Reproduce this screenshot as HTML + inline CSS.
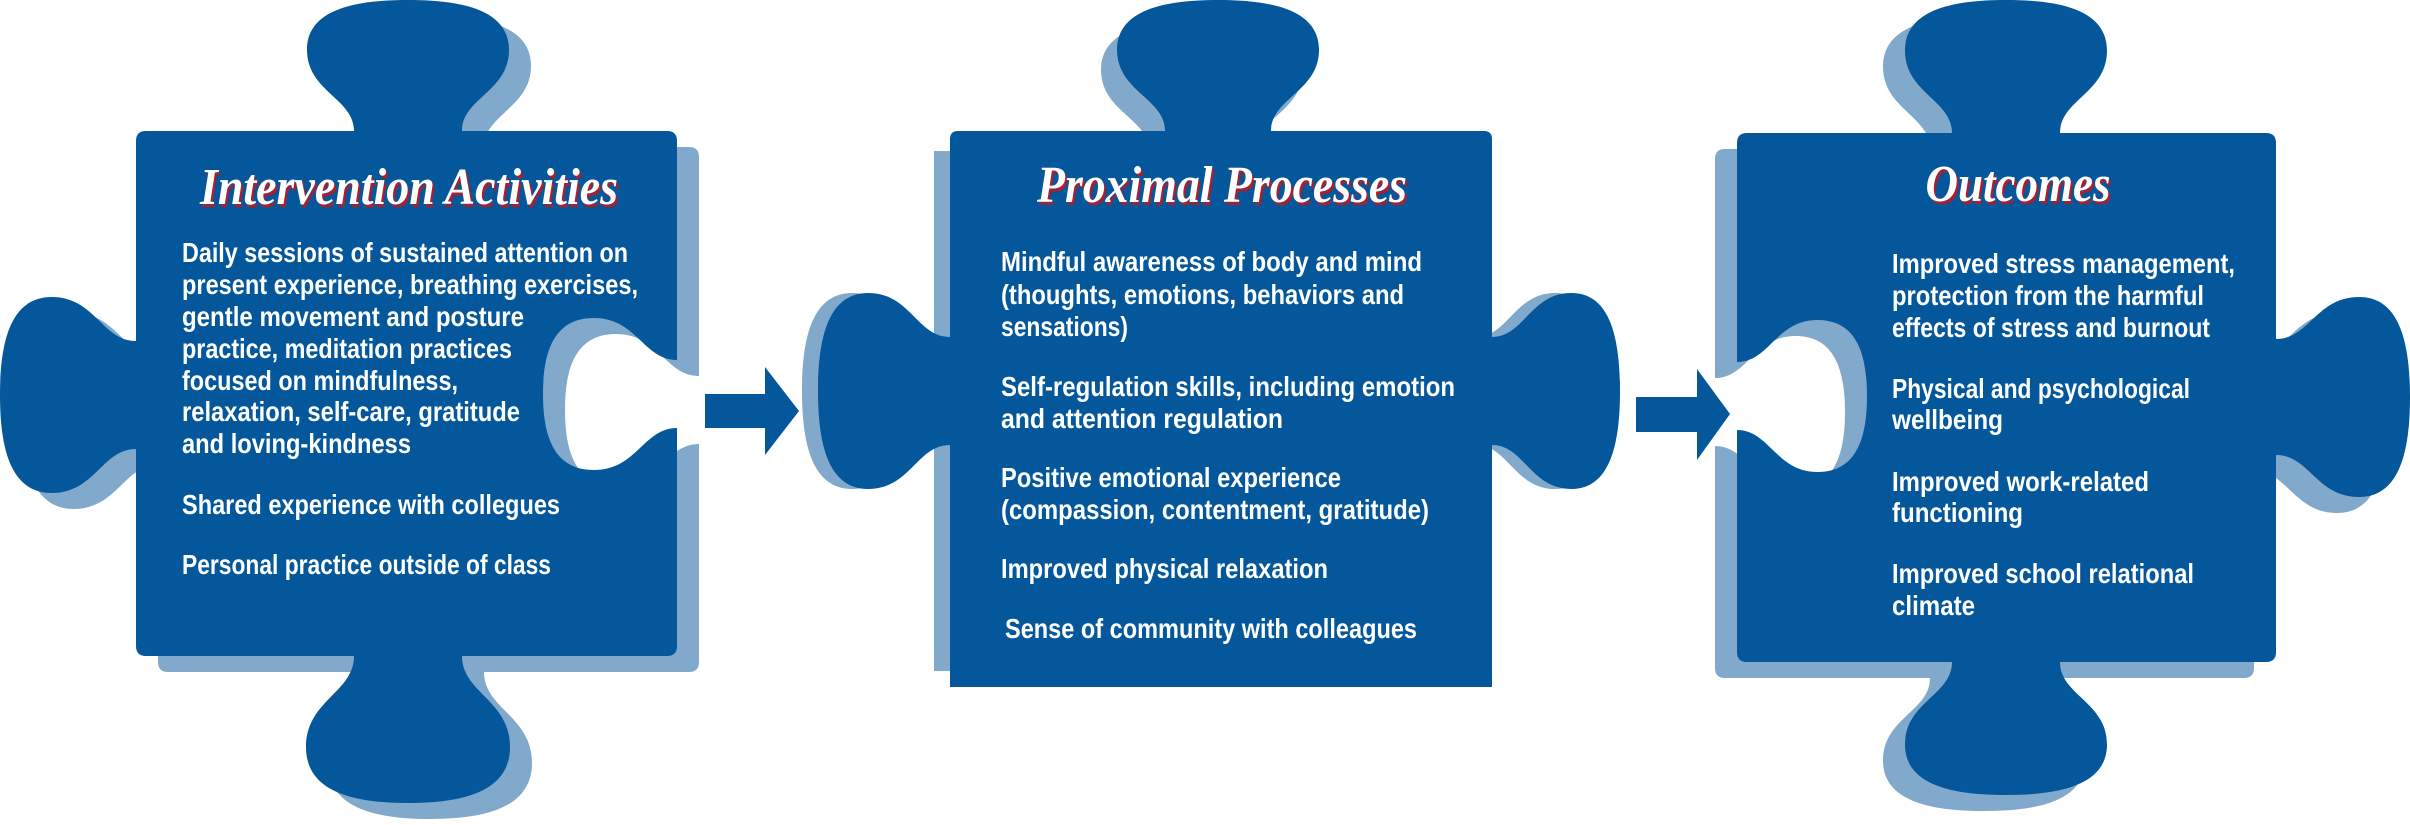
<!DOCTYPE html>
<html><head><meta charset="utf-8"><style>
html,body{margin:0;padding:0;background:#fff;}
svg{display:block;}
.b{font-family:"Liberation Sans",sans-serif;font-weight:bold;font-size:28px;fill:#fff;}
.t{font-family:"Liberation Serif",serif;font-weight:bold;font-style:italic;font-size:52px;}
</style></head><body>
<svg id="s" width="2410" height="825" viewBox="0 0 2410 825" xmlns="http://www.w3.org/2000/svg">
<g id="shapes"></g>
<polygon points="705,394 765,394 765,367 799,411 765,455 765,428 705,428" fill="#03579a"/>
<polygon points="1636,397 1697,397 1697,369 1730,414 1697,460 1697,432 1636,432" fill="#03579a"/>

<g class="t">
<text x="411" y="207" text-anchor="middle" textLength="418" lengthAdjust="spacingAndGlyphs" fill="#a8202f">Intervention Activities</text>
<text x="409" y="204" text-anchor="middle" textLength="418" lengthAdjust="spacingAndGlyphs" fill="#fff">Intervention Activities</text>
<text x="1224" y="205" text-anchor="middle" textLength="370" lengthAdjust="spacingAndGlyphs" fill="#a8202f">Proximal Processes</text>
<text x="1222" y="202" text-anchor="middle" textLength="370" lengthAdjust="spacingAndGlyphs" fill="#fff">Proximal Processes</text>
<text x="2020" y="204" text-anchor="middle" textLength="185" lengthAdjust="spacingAndGlyphs" fill="#a8202f">Outcomes</text>
<text x="2018" y="201" text-anchor="middle" textLength="185" lengthAdjust="spacingAndGlyphs" fill="#fff">Outcomes</text>
</g>

<g class="b">
<text x="182" y="262" textLength="446" lengthAdjust="spacingAndGlyphs">Daily sessions of sustained attention on</text>
<text x="182" y="294" textLength="456" lengthAdjust="spacingAndGlyphs">present experience, breathing exercises,</text>
<text x="182" y="326" textLength="342" lengthAdjust="spacingAndGlyphs">gentle movement and posture</text>
<text x="182" y="358" textLength="330" lengthAdjust="spacingAndGlyphs">practice, meditation practices</text>
<text x="182" y="390" textLength="276" lengthAdjust="spacingAndGlyphs">focused on mindfulness,</text>
<text x="182" y="421" textLength="338" lengthAdjust="spacingAndGlyphs">relaxation, self-care, gratitude</text>
<text x="182" y="453" textLength="229" lengthAdjust="spacingAndGlyphs">and loving-kindness</text>
<text x="182" y="514" textLength="378" lengthAdjust="spacingAndGlyphs">Shared experience with collegues</text>
<text x="182" y="574" textLength="369" lengthAdjust="spacingAndGlyphs">Personal practice outside of class</text>

<text x="1001" y="271" textLength="421" lengthAdjust="spacingAndGlyphs">Mindful awareness of body and mind</text>
<text x="1001" y="304" textLength="403" lengthAdjust="spacingAndGlyphs">(thoughts, emotions, behaviors and</text>
<text x="1001" y="336" textLength="127" lengthAdjust="spacingAndGlyphs">sensations)</text>
<text x="1001" y="396" textLength="454" lengthAdjust="spacingAndGlyphs">Self-regulation skills, including emotion</text>
<text x="1001" y="428" textLength="282" lengthAdjust="spacingAndGlyphs">and attention  regulation</text>
<text x="1001" y="487" textLength="340" lengthAdjust="spacingAndGlyphs">Positive emotional experience</text>
<text x="1001" y="519" textLength="428" lengthAdjust="spacingAndGlyphs">(compassion, contentment, gratitude)</text>
<text x="1001" y="578" textLength="327" lengthAdjust="spacingAndGlyphs">Improved physical relaxation</text>
<text x="1005" y="638" textLength="412" lengthAdjust="spacingAndGlyphs">Sense of community with colleagues</text>

<text x="1892" y="273" textLength="343" lengthAdjust="spacingAndGlyphs">Improved stress management,</text>
<text x="1892" y="305" textLength="312" lengthAdjust="spacingAndGlyphs">protection from the harmful</text>
<text x="1892" y="337" textLength="318" lengthAdjust="spacingAndGlyphs">effects of stress and burnout</text>
<text x="1892" y="398" textLength="298" lengthAdjust="spacingAndGlyphs">Physical and psychological</text>
<text x="1892" y="429" textLength="111" lengthAdjust="spacingAndGlyphs">wellbeing</text>
<text x="1892" y="491" textLength="257" lengthAdjust="spacingAndGlyphs">Improved work-related</text>
<text x="1892" y="522" textLength="131" lengthAdjust="spacingAndGlyphs">functioning</text>
<text x="1892" y="583" textLength="302" lengthAdjust="spacingAndGlyphs">Improved school relational</text>
<text x="1892" y="615" textLength="83" lengthAdjust="spacingAndGlyphs">climate</text>
</g>
</svg>
<script>
(function(){
function f(p){return p[0].toFixed(1)+','+p[1].toFixed(1);}
function knob(c,t,n,k){
  var nw=k.nw,bw=k.bw,h=k.h;
  function P(u,v){return [c[0]+u*t[0]+v*n[0], c[1]+u*t[1]+v*n[1]];}
  return ' L'+f(P(-nw,0))+
   ' C'+f(P(-nw,0.25*h))+' '+f(P(-bw,0.3*h))+' '+f(P(-bw,0.62*h))+
   ' C'+f(P(-bw,0.92*h))+' '+f(P(-0.55*bw,h))+' '+f(P(0,h))+
   ' C'+f(P(0.55*bw,h))+' '+f(P(bw,0.92*h))+' '+f(P(bw,0.62*h))+
   ' C'+f(P(bw,0.3*h))+' '+f(P(nw,0.25*h))+' '+f(P(nw,0));
}
function piece(x0,y0,x1,y1,r,rb,K,dx,dy){
  x0+=dx;x1+=dx;y0+=dy;y1+=dy;
  var d='M'+(x0+r)+','+y0;
  if(K.top){var k=K.top;d+=knob([k.c+dx,y0],[1,0],[0,-1],k);}
  d+=' L'+(x1-r)+','+y0+' Q'+x1+','+y0+' '+x1+','+(y0+r);
  if(K.right){var k=K.right;d+=knob([x1,k.c+dy],[0,1],[1,0],k);}
  d+=' L'+x1+','+(y1-rb)+' Q'+x1+','+y1+' '+(x1-rb)+','+y1;
  if(K.bottom){var k=K.bottom;d+=knob([k.c+dx,y1],[-1,0],[0,1],k);}
  d+=' L'+(x0+rb)+','+y1+' Q'+x0+','+y1+' '+x0+','+(y1-rb);
  if(K.left){var k=K.left;d+=knob([x0,k.c+dy],[0,-1],[-1,0],k);}
  d+=' L'+x0+','+(y0+r)+' Q'+x0+','+y0+' '+(x0+r)+','+y0+' Z';
  return d;
}
var k1={top:{c:408,nw:54,bw:101,h:131},left:{c:395,nw:54,bw:98,h:136},right:{c:394,nw:34,bw:76,h:-134},bottom:{c:408,nw:54,bw:102,h:147}};
var k2={top:{c:1218,nw:53,bw:101,h:131},left:{c:391,nw:54,bw:98,h:132},right:{c:391,nw:54,bw:98,h:128}};
var k2s={top:{c:1202,nw:53,bw:101,h:131},left:{c:391,nw:54,bw:98,h:132},right:{c:391,nw:54,bw:98,h:128}};
var k3={top:{c:2006,nw:54,bw:101,h:133},left:{c:396,nw:34,bw:76,h:-130},right:{c:397,nw:58,bw:100,h:134},bottom:{c:2006,nw:54,bw:101,h:133}};
var g=document.getElementById('shapes'),html='';
var sh='#80a9cb',mn='#03579a';
html+='<path fill="'+sh+'" d="'+piece(136,131,677,656,10,10,k1,22,16)+'"/>';
html+='<path fill="'+sh+'" d="'+piece(934,151,1476,671,0,0,k2s,0,0)+'"/>';
html+='<path fill="'+sh+'" d="'+piece(1737,133,2276,662,10,10,k3,-22,16)+'"/>';
html+='<path fill="'+mn+'" d="'+piece(136,131,677,656,10,10,k1,0,0)+'"/>';
html+='<path fill="'+mn+'" d="'+piece(950,131,1492,687,8,0,k2,0,0)+'"/>';
html+='<path fill="'+mn+'" d="'+piece(1737,133,2276,662,10,10,k3,0,0)+'"/>';
g.innerHTML=html;
})();
</script>
</body></html>
